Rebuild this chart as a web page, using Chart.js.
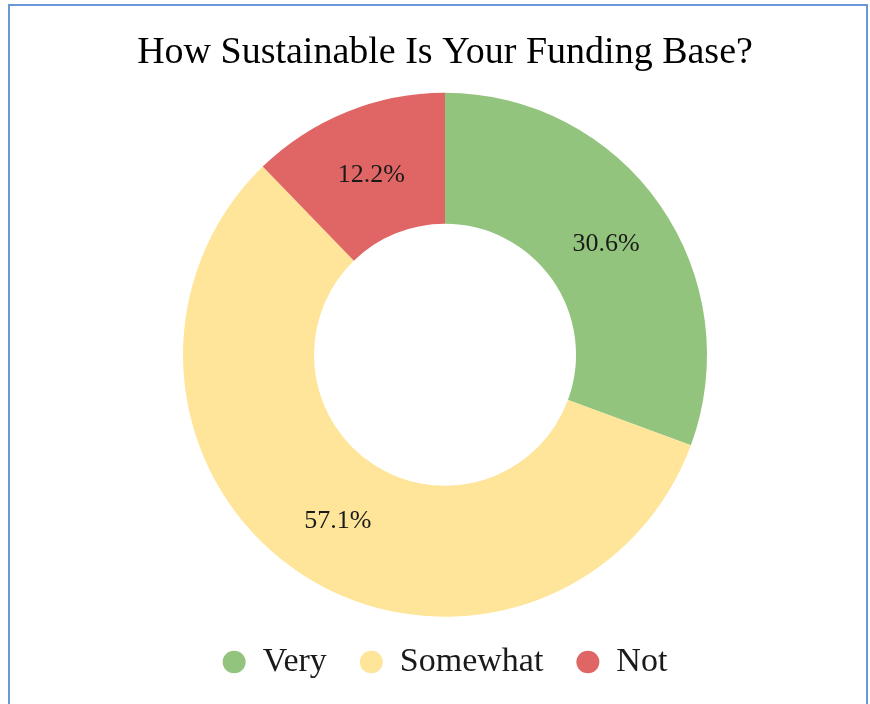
<!DOCTYPE html>
<html>
<head>
<meta charset="utf-8">
<title>Funding Base</title>
<script src="https://cdn.jsdelivr.net/npm/chart.js@4/dist/chart.umd.min.js"></script>
<style>
    html, body { margin: 0; padding: 0; background: #fff; overflow: hidden; }
    .frame {
        position: absolute;
        left: 8px; top: 4px;
        width: 856px; height: 720px;
        border: 2px solid #6a98d6;
    }
    .wrap {
        position: absolute;
        left: 20px; top: 0;
        width: 850px; height: 704px;
    }
</style>
</head>
<body>
<div class="frame"></div>
<div class="wrap"><canvas id="fundingChart"></canvas></div>
<script>
// ========================================
// Survey data
// ========================================

const labels = ['Very', 'Somewhat', 'Not'];
const responses = [15, 28, 6];
const colors = ['#93c47d', '#ffe599', '#e06666'];

const serif = '"Liberation Serif", "Times New Roman", serif';

// Percent labels placed at the middle of each ring segment
const sliceLabels = {
    id: 'sliceLabels',
    afterDatasetsDraw(chart) {
        const ctx = chart.ctx;
        const meta = chart.getDatasetMeta(0);
        const total = responses.reduce((a, b) => a + b, 0);
        ctx.save();
        ctx.font = '26px ' + serif;
        ctx.fillStyle = '#1a1a1a';
        ctx.textAlign = 'center';
        ctx.textBaseline = 'alphabetic';
        meta.data.forEach((arc, i) => {
            const pos = arc.tooltipPosition();
            const pct = (responses[i] / total * 100).toFixed(1) + '%';
            // baseline sits about half a cap height below the centre
            ctx.fillText(pct, pos.x, pos.y + 9);
        });
        ctx.restore();
    }
};

Chart.defaults.color = '#1a1a1a';

const ctx = document.getElementById('fundingChart');
try {
    new Chart(ctx.getContext('2d'), {
        type: 'doughnut',
        data: {
            labels: labels,
            datasets: [{
                data: responses,
                backgroundColor: colors,
                borderWidth: 0,
                radius: 262,
                cutout: '50%'
            }]
        },
        options: {
            responsive: true,
            maintainAspectRatio: false,
            animation: false,
            layout: { padding: { bottom: 15 } },
            plugins: {
                title: {
                    display: true,
                    text: 'How Sustainable Is Your Funding Base?',
                    color: '#000',
                    font: { family: serif, size: 38, weight: 'normal' },
                    padding: { top: 30, bottom: 22 }
                },
                legend: {
                    position: 'bottom',
                    labels: {
                        usePointStyle: true,
                        pointStyle: 'circle',
                        boxHeight: 16,
                        pointStyleWidth: 23,
                        padding: 33,
                        font: { family: serif, size: 34 }
                    }
                },
                tooltip: { enabled: false }
            }
        },
        plugins: [sliceLabels]
    });
} catch (err) {
    console.error(err);
}
</script>
</body>
</html>
